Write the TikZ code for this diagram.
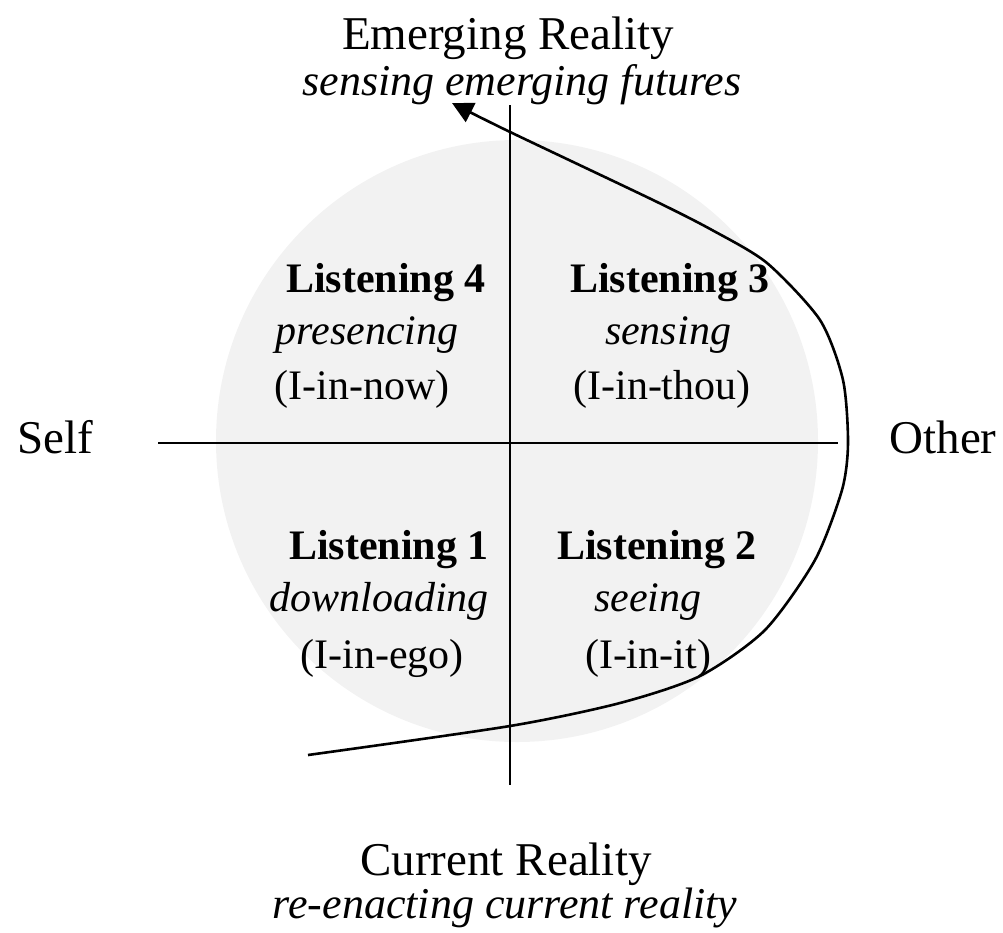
\documentclass[tikz,border=0pt]{standalone}
\usepackage{fontspec}
\setmainfont{Liberation Serif}
\usetikzlibrary{arrows.meta}
\definecolor{disc}{HTML}{F2F2F2}
\begin{document}
\begin{tikzpicture}[x=1pt,y=-1pt,
  lbl/.style={inner sep=0pt,anchor=base,font=\fontsize{42}{48}\selectfont},
  big/.style={inner sep=0pt,anchor=base,font=\fontsize{47}{52}\selectfont},
  sub/.style={inner sep=0pt,anchor=base,font=\fontsize{44}{50}\selectfont\itshape},
  axis/.style={line width=2pt},
  path/.style={line width=2.6pt,-{Triangle[length=21pt,width=21pt]}}]
\useasboundingbox (0,0) rectangle (1003,932);
\fill[disc] (517,441) circle (301);
\coordinate (vt) at (510,105);
\coordinate (vb) at (510,785);
\coordinate (hl) at (158,443);
\coordinate (hr) at (838,443);
\draw[axis] (vt) -- (vb);
\draw[axis] (hl) -- (hr);
\node[big] (er) at (508,49) {Emerging Reality};
\node[sub] (ef) at (522,95) {sensing emerging futures};
\node[big] (cr) at (506,875) {Current Reality};
\node[sub] (cf) at (505,918) {re-enacting current reality};
\node[big] (self) at (55,453) {Self};
\node[big] (other) at (943,453) {Other};
\node[lbl] (l4) at (386,292) {\bfseries Listening 4};
\node[lbl] (p4) at (367,344) {\itshape presencing};
\node[lbl] (i4) at (362,399) {(I-in-now)};
\node[lbl] (l3) at (670,292) {\bfseries Listening 3};
\node[lbl] (p3) at (668,344) {\itshape sensing};
\node[lbl] (i3) at (662,399) {(I-in-thou)};
\node[lbl] (l1) at (389,559) {\bfseries Listening 1};
\node[lbl] (p1) at (379,611) {\itshape downloading};
\node[lbl] (i1) at (382,668) {(I-in-ego)};
\node[lbl] (l2) at (657,559) {\bfseries Listening 2};
\node[lbl] (p2) at (648,611) {\itshape seeing};
\node[lbl] (i2) at (648,668) {(I-in-it)};
\draw[path] plot[smooth,tension=0.45] coordinates {(308,755) (510,726) (620,703) (700,676) (765,630) (815,560) (842,490) (848,443) (843,380) (820,320) (767,263) (712,230) (653,200) (508,131) (452,103)};
\end{tikzpicture}
\end{document}
